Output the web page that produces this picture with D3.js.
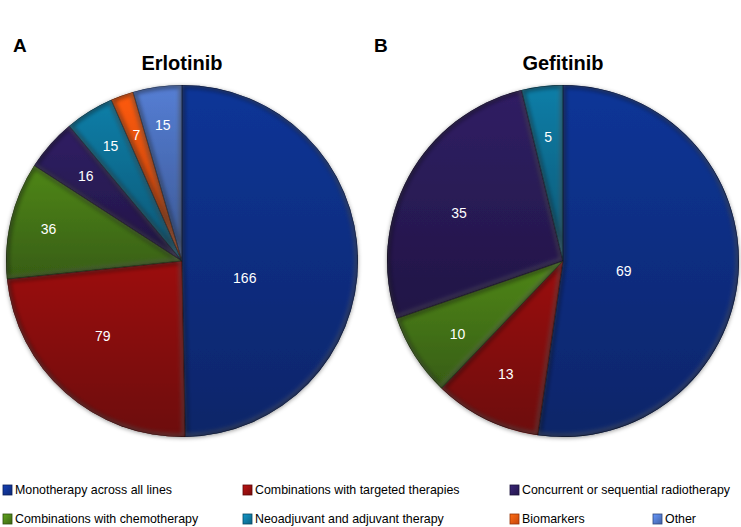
<!DOCTYPE html>
<html><head><meta charset="utf-8">
<script src="https://cdn.jsdelivr.net/npm/d3@7"></script>
<style>
html,body{margin:0;padding:0;background:#fff;}
svg{display:block;font-family:"Liberation Sans",Arial,sans-serif;}
</style></head>
<body>
<svg id="chart" width="741" height="527"></svg>
<script>
// ---------------- data ----------------
const categories = [
  "Monotherapy across all lines",
  "Combinations with targeted therapies",
  "Combinations with chemotherapy",
  "Concurrent or sequential radiotherapy",
  "Neoadjuvant and adjuvant therapy",
  "Biomarkers",
  "Other"
];
const erlotinibValues = [166, 79, 36, 16, 15, 7, 15];
const gefitinibValues = [69, 13, 10, 35, 5, 0, 0];
const panelLetters = ["A", "B"];
const panelTitles = ["Erlotinib", "Gefitinib"];
const legendOrder = [0, 1, 3, 2, 4, 5, 6];

// ---------------- styling / layout ----------------
const colors = ["#0f2f86", "#8a0e0e", "#467716", "#2a1b58", "#0e6f94", "#e4500e", "#4b6fbb"];
// label radial position (fraction of radius) per slice
const labelRadiusA = [0.37, 0.62, 0.78, 0.73, 0.77, 0.76, 0.78];
const labelRadiusB = [0.35, 0.72, 0.73, 0.65, 0.71, 0.7, 0.7];
const labelShiftA = [16, 5, 0, 0, 0, 0, 0];
const labelShiftB = [5, 1, -2, -4, 0, 0, 0];

const svg = d3.select("#chart");
const defs = svg.append("defs");

// gradients per category
colors.forEach((c, i) => {
  const g = defs.append("linearGradient").attr("id", "grad" + i)
    .attr("x1", 0).attr("y1", 0).attr("x2", 0).attr("y2", 1);
  g.append("stop").attr("offset", "0%").attr("stop-color", d3.color(c).brighter(0.35));
  g.append("stop").attr("offset", "100%").attr("stop-color", d3.color(c).darker(0.7));
  const lg = defs.append("linearGradient").attr("id", "lgrad" + i)
    .attr("x1", 0).attr("y1", 0).attr("x2", 1).attr("y2", 1);
  lg.append("stop").attr("offset", "0%").attr("stop-color", d3.color(c).brighter(0.9));
  lg.append("stop").attr("offset", "100%").attr("stop-color", d3.color(c).darker(0.4));
});

// filters
const shadow = defs.append("filter").attr("id", "pieShadow")
  .attr("x", "-10%").attr("y", "-10%").attr("width", "120%").attr("height", "120%");
shadow.append("feDropShadow").attr("dx", 0).attr("dy", 1).attr("stdDeviation", 2)
  .attr("flood-color", "#000").attr("flood-opacity", 0.4);
const blur = defs.append("filter").attr("id", "innerBlur")
  .attr("x", "-10%").attr("y", "-10%").attr("width", "120%").attr("height", "120%");
blur.append("feGaussianBlur").attr("stdDeviation", 2.2);

const radius = 176;
const centers = [[182, 261], [563, 261]];
const datasets = [erlotinibValues, gefitinibValues];
const labelR = [labelRadiusA, labelRadiusB];
const labelS = [labelShiftA, labelShiftB];

const pie = d3.pie().sort(null).value(d => d.v);
const arc = d3.arc().innerRadius(0).outerRadius(radius);

datasets.forEach((vals, p) => {
  const [cx, cy] = centers[p];
  const data = vals.map((v, i) => ({v, i})).filter(d => d.v > 0);
  const arcs = pie(data);
  const g = svg.append("g").attr("transform", `translate(${cx},${cy})`);

  const pieG = g.append("g").attr("filter", "url(#pieShadow)");
  arcs.forEach((a, k) => {
    const id = `clip${p}_${k}`;
    defs.append("clipPath").attr("id", id)
      .append("path").attr("d", arc(a)).attr("transform", `translate(${cx},${cy})`);
    pieG.append("path").attr("d", arc(a)).attr("fill", `url(#grad${a.data.i})`);
    // inner shadow / bevel
    const inner = svg.append("g").attr("clip-path", `url(#${id})`);
    inner.append("path").attr("d", arc(a))
      .attr("transform", `translate(${cx},${cy})`)
      .attr("fill", "none").attr("stroke", "rgba(0,0,0,0.45)").attr("stroke-width", 6)
      .attr("filter", "url(#innerBlur)");
    inner.append("path").attr("d", arc(a))
      .attr("transform", `translate(${cx - 1.5},${cy - 1.5})`)
      .attr("fill", "none").attr("stroke", "rgba(255,255,255,0.25)").attr("stroke-width", 2.5)
      .attr("filter", "url(#innerBlur)");
    inner.append("path").attr("d", arc(a))
      .attr("transform", `translate(${cx},${cy})`)
      .attr("fill", "none").attr("stroke", "rgba(0,0,0,0.5)").attr("stroke-width", 1);
  });

  // labels
  const lg = svg.append("g").attr("transform", `translate(${cx},${cy})`);
  arcs.forEach(a => {
    const mid = (a.startAngle + a.endAngle) / 2 + labelS[p][a.data.i] * Math.PI / 180;
    const rr = labelR[p][a.data.i] * radius;
    lg.append("text")
      .attr("x", Math.sin(mid) * rr)
      .attr("y", -Math.cos(mid) * rr)
      .attr("text-anchor", "middle").attr("dominant-baseline", "central")
      .attr("fill", "#fff").attr("font-size", 14)
      .text(a.data.v);
  });

  // titles
  svg.append("text").attr("x", cx).attr("y", 70).attr("text-anchor", "middle")
    .attr("font-size", 20).attr("font-weight", "bold").attr("fill", "#000")
    .text(panelTitles[p]);
});

svg.append("text").attr("x", 13).attr("y", 52).attr("font-size", 19)
  .attr("font-weight", "bold").text(panelLetters[0]);
svg.append("text").attr("x", 374).attr("y", 52).attr("font-size", 19)
  .attr("font-weight", "bold").text(panelLetters[1]);

// legend
const legendSlots = [[3, 490], [243, 490], [510, 490], [3, 519], [243, 519], [510, 519], [653, 519]];
const leg = svg.append("g");
legendOrder.forEach((ci, k) => {
  const [x, y] = legendSlots[k];
  const item = leg.append("g").attr("transform", `translate(${x},${y})`);
  item.append("rect").attr("x", 0).attr("y", -5).attr("width", 9).attr("height", 10)
    .attr("fill", `url(#lgrad${ci})`).attr("stroke", d3.color(colors[ci]).darker(1.2)).attr("stroke-width", 0.8);
  item.append("text").attr("x", 12).attr("y", 0).attr("dominant-baseline", "central")
    .attr("font-size", 12.4).attr("fill", "#000").text(categories[ci]);
});
</script>
</body></html>
